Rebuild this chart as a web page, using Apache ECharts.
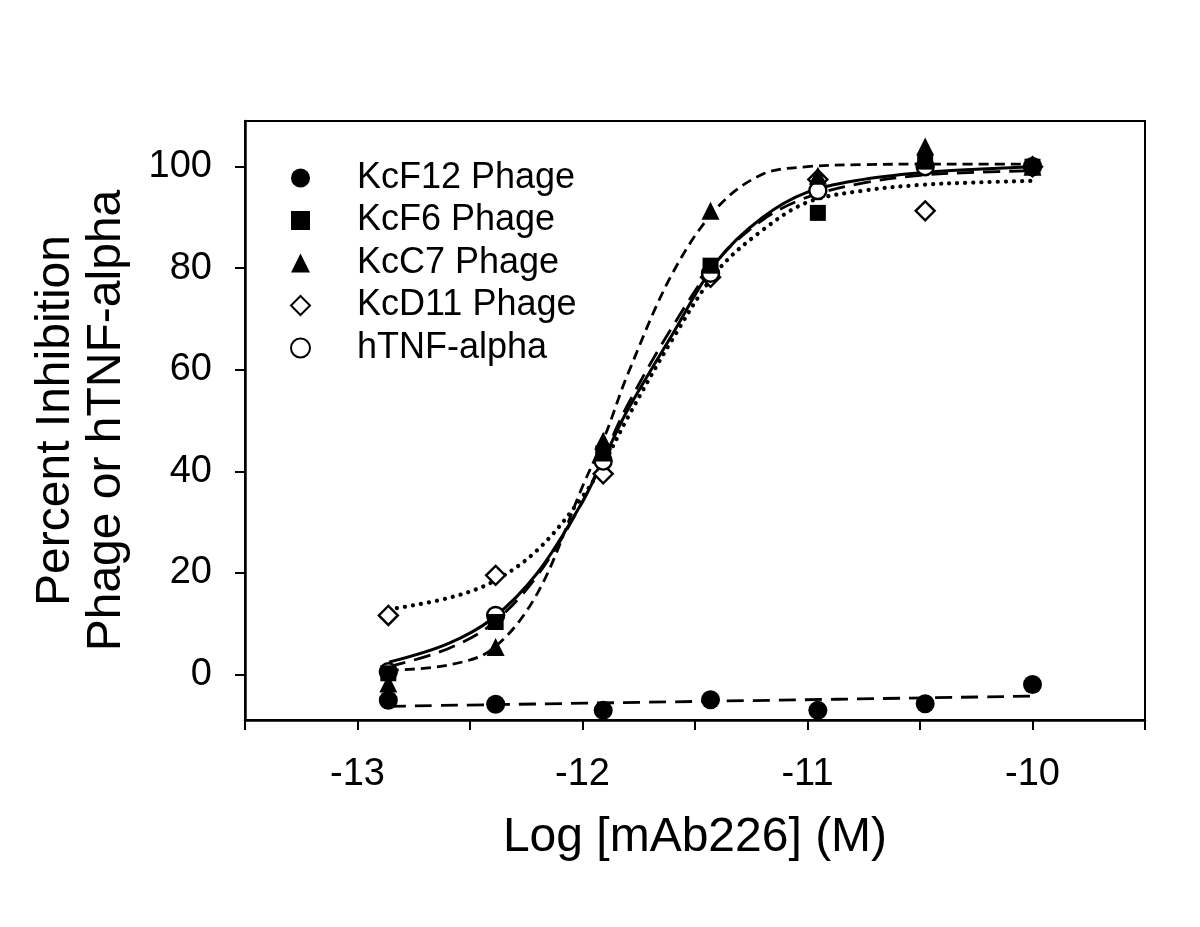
<!DOCTYPE html>
<html>
<head>
<meta charset="utf-8">
<script src="https://cdn.jsdelivr.net/npm/echarts@6/dist/echarts.min.js"></script>
<style>
html,body{margin:0;padding:0;background:#fff;}
#chart{width:1200px;height:927px;}
</style>
</head>
<body>
<div id="chart"></div>
<script>
// ---- data ----
const logConc = [-12.863, -12.386, -11.908, -11.431, -10.954, -10.477, -10];
const kcF12 = [-5.1, -5.9, -7.1, -5.0, -7.1, -5.8, -2.0];
const kcF6  = [0.2, 10.3, 43.5, 80.5, 90.9, 101, 100];
const kcC7  = [-1.8, 5.4, 46, 91.3, 98.2, 104, 100];
const kcD11 = [11.6, 19.5, 39.5, 78.2, 97.5, 91.3, 100];
const hTNF  = [0.5, 11.6, 42, 79, 95.3, 100, 100];

// fitted curves
const fitX = [-12.86, -12.6, -12.4, -12.2, -12.0, -11.9, -11.8, -11.6, -11.4, -11.2, -11.0, -10.75, -10.5, -10.25, -10.0];
const fitKcF6  = [1.5, 5, 10, 19.5, 34, 43.5, 53, 68.5, 81.5, 89.5, 94, 96.8, 98.3, 98.9, 99.2];
const fitKcC7  = [0.8, 1.8, 5, 16, 37, 47, 59, 79, 92, 98.5, 100, 100.4, 100.5, 100.5, 100.5];
const fitKcD11 = [12.8, 15, 18.2, 24.5, 35, 42, 50.5, 66, 79.5, 87.5, 93, 95.3, 96.4, 96.9, 97.2];
const fitHTNF  = [2.4, 6, 11, 20, 34, 43, 52, 67, 81.5, 90, 95, 97.5, 98.8, 99.5, 100];
const fitF12X = [-12.86, -11.43, -10.0];
const fitKcF12 = [-6.3, -5.3, -4.3];

const yTicks = [0, 20, 40, 60, 80, 100];
const names = ['KcF12 Phage', 'KcF6 Phage', 'KcC7 Phage', 'KcD11 Phage', 'hTNF-alpha'];

const FONT = 'Liberation Sans, Arial, sans-serif';
const pairs = (xs, ys) => xs.map((x, i) => [x, ys[i]]);

const chart = echarts.init(document.getElementById('chart'), null, {renderer: 'canvas'});

function fitLine(name, xs, ys, type, width, cap) {
  return {
    name: name, type: 'line', data: pairs(xs, ys), smooth: 0.35,
    showSymbol: false, silent: true, z: 2,
    lineStyle: {color: '#000', width: width, type: type, cap: cap || 'butt', opacity: 1}
  };
}

function pts(name, ys, symbol, size, filled, z) {
  return {
    name: name, type: 'scatter', data: pairs(logConc, ys), symbol: symbol, symbolSize: size, z: z,
    itemStyle: filled ? {color: '#000', opacity: 1}
                      : {color: '#fff', borderColor: '#000', borderWidth: 2.4, opacity: 1},
    emphasis: {disabled: true}
  };
}

const option = {
  animation: false,
  backgroundColor: '#fff',
  grid: {left: 245, right: 55, top: 121, bottom: 207, show: true, borderColor: '#000', borderWidth: 2, backgroundColor: 'transparent'},
  legend: {
    data: names.map(n => ({name: n})),
    orient: 'vertical', left: 285, top: 154,
    itemWidth: 19, itemHeight: 19, itemGap: 4.5,
    textStyle: {fontFamily: FONT, fontSize: 36, color: '#000', lineHeight: 38, padding: [0, 0, 0, 42]},
    selectedMode: false
  },
  xAxis: {
    type: 'value', min: -13.5, max: -9.5, interval: 0.5,
    name: 'Log [mAb226] (M)', nameLocation: 'middle', nameGap: 94,
    nameTextStyle: {fontFamily: FONT, fontSize: 48, color: '#000'},
    axisLine: {show: true, onZero: false, lineStyle: {color: '#000', width: 2.5}},
    axisTick: {show: true, inside: false, length: 10, lineStyle: {color: '#000', width: 2}},
    axisLabel: {fontFamily: FONT, fontSize: 38, color: '#000', margin: 36,
      formatter: v => (Math.abs(v - Math.round(v)) < 1e-6 ? String(Math.round(v)) : '')},
    splitLine: {show: false}
  },
  yAxis: {
    type: 'value', min: -9, max: 109,
    name: 'Percent Inhibition\nPhage or hTNF-alpha', nameLocation: 'middle', nameGap: 113, nameRotate: 90,
    nameTextStyle: {fontFamily: FONT, fontSize: 48, color: '#000', lineHeight: 51},
    axisLine: {show: true, onZero: false, lineStyle: {color: '#000', width: 2.5}},
    axisTick: {show: true, inside: false, length: 10, customValues: yTicks, lineStyle: {color: '#000', width: 2}},
    axisLabel: {fontFamily: FONT, fontSize: 38, color: '#000', margin: 33, customValues: yTicks},
    splitLine: {show: false}
  },
  series: [
    fitLine('fit KcF12', fitF12X, fitKcF12, [17, 9], 2.8),
    fitLine('fit KcF6', fitX, fitKcF6, [17, 9], 2.8),
    fitLine('fit KcC7', fitX, fitKcC7, [10, 6], 2.8),
    fitLine('fit KcD11', fitX, fitKcD11, [0.1, 8], 4.2, 'round'),
    fitLine('fit hTNF', fitX, fitHTNF, 'solid', 3),
    pts(names[0], kcF12, 'circle', 19, true, 6),
    pts(names[1], kcF6, 'rect', 16, true, 6),
    pts(names[2], kcC7, 'triangle', 18, true, 6),
    pts(names[3], kcD11, 'diamond', 19, false, 4),
    pts(names[4], hTNF, 'circle', 17, false, 4)
  ]
};
chart.setOption(option);
</script>
</body>
</html>
